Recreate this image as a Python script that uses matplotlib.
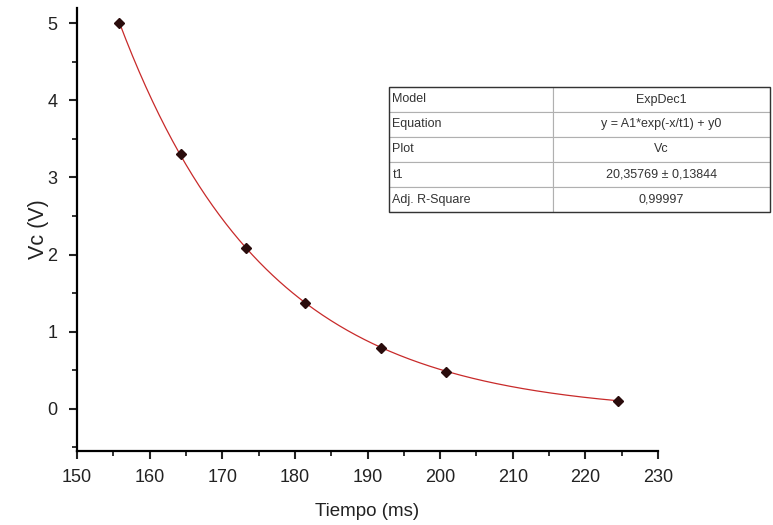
import numpy as np
import matplotlib
matplotlib.use("Agg")
import matplotlib.pyplot as plt
from matplotlib.ticker import MultipleLocator

plt.rcParams['font.family'] = ['Liberation Sans', 'DejaVu Sans']

# Datos medidos (descarga del condensador)
tiempo = [155.8, 164.3, 173.3, 181.4, 191.9, 200.8, 224.5]
vc = [5.00, 3.31, 2.09, 1.37, 0.79, 0.48, 0.10]

# Parámetros del ajuste ExpDec1
t1 = 20.35769
tabla_filas = ["Model", "Equation", "Plot", "t1", "Adj. R-Square"]
tabla_valores = ["ExpDec1", "y = A1*exp(-x/t1) + y0", "Vc",
                 "20,35769 \u00b1 0,13844", "0,99997"]

# Ajuste lineal de A1 e y0 con t1 fijo
x = np.array(tiempo)
y = np.array(vc)
M = np.column_stack([np.exp(-x / t1), np.ones_like(x)])
A1, y0 = np.linalg.lstsq(M, y, rcond=None)[0]
xf = np.linspace(x.min(), x.max(), 300)
yf = A1 * np.exp(-xf / t1) + y0

fig = plt.figure(figsize=(7.73, 5.25), dpi=100)
ax = fig.add_axes([77 / 773, 74 / 525, 581 / 773, 443 / 525])

ax.plot(xf, yf, color='#c82a2a', lw=0.9, zorder=2)
ax.plot(tiempo, vc, 'D', color='#2a0c0c', markersize=5, zorder=3)

ax.set_xlim(150, 230)
ax.set_ylim(-0.55, 5.2)
ax.xaxis.set_major_locator(MultipleLocator(10))
ax.xaxis.set_minor_locator(MultipleLocator(5))
ax.yaxis.set_major_locator(MultipleLocator(1))
ax.yaxis.set_minor_locator(MultipleLocator(0.5))

for s in ['top', 'right']:
    ax.spines[s].set_visible(False)
for s in ['left', 'bottom']:
    ax.spines[s].set_linewidth(1.6)

ax.tick_params(which='major', direction='out', length=6, width=1.5,
               labelsize=13, colors='#222222')
ax.tick_params(axis='x', which='major', pad=7)
ax.tick_params(axis='y', which='major', pad=8)
ax.tick_params(which='minor', direction='out', length=3.5, width=1.3,
               colors='#222222')

ax.set_xlabel("Tiempo (ms)", fontsize=13.5, color='#222222', labelpad=12)
ax.set_ylabel("Vc (V)", fontsize=15.5, color='#222222', labelpad=-1)

# Tabla de resultados del ajuste
celdas = [[f, v] for f, v in zip(tabla_filas, tabla_valores)]
tab = ax.table(cellText=celdas, cellLoc='center',
               colWidths=[164 / 581, 217 / 581],
               bbox=[(389 - 77) / 581, (451 - 212) / 443,
                     381 / 581, 125 / 443])
tab.auto_set_font_size(False)
tab.set_fontsize(9)
tab.set_clip_on(False)
for (r, c), cell in tab.get_celld().items():
    cell.set_edgecolor('#b0b0b0')
    cell.set_linewidth(0.8)
    cell.set_text_props(color='#333333')
    cell.PAD = 0.02
    if c == 0:
        cell._loc = 'left'
        cell.get_text().set_horizontalalignment('left')

# Borde exterior
x0 = (389 - 77) / 581
y0b = (451 - 212) / 443
ax.add_patch(plt.Rectangle((x0, y0b), 381 / 581, 125 / 443,
                           transform=ax.transAxes, fill=False,
                           edgecolor='#333333', lw=1.0, clip_on=False,
                           zorder=5))

fig.savefig("out.png", dpi=100)
